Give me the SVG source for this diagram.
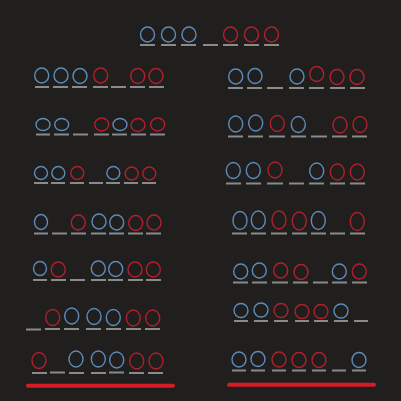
<svg xmlns="http://www.w3.org/2000/svg" width="401" height="401" viewBox="0 0 401 401">
<style>
.b{fill:none;stroke:#5b8cbc;stroke-width:1.4}
.r{fill:none;stroke:#b31f2b;stroke-width:1.4}
.s{stroke:#8a8a8a;stroke-width:2}
.bar{stroke:#d41b26;stroke-width:4;stroke-linecap:round}
</style>
<rect width="401" height="401" fill="#211f1e"/>
<g id="start">
<ellipse class="b" cx="147.5" cy="34.5" rx="7" ry="7.5"/><ellipse class="b" cx="168.5" cy="34.5" rx="7" ry="7.5"/><ellipse class="b" cx="189" cy="34.5" rx="7" ry="7.5"/>
<ellipse class="r" cx="230.5" cy="34.5" rx="7" ry="7.5"/><ellipse class="r" cx="251.5" cy="34.5" rx="7" ry="7.5"/><ellipse class="r" cx="271.5" cy="34.5" rx="7" ry="7.5"/>
<path class="s" d="M140 45h15M161 45h15M181 45h15M203 45h15M223 45h15M244 45h15M264 45h15"/>
</g>
<g id="L1">
<ellipse class="b" cx="41.7" cy="75.5" rx="7" ry="7.5"/><ellipse class="b" cx="61" cy="75.5" rx="7" ry="7.5"/><ellipse class="b" cx="80" cy="76" rx="7" ry="7.5"/>
<ellipse class="r" cx="100.7" cy="75.5" rx="7" ry="7.5"/><ellipse class="r" cx="137.7" cy="76" rx="7" ry="7.5"/><ellipse class="r" cx="156" cy="76" rx="7" ry="7.5"/>
<path class="s" d="M35 87h14M53 87h15M72 87h15M93 87h15M111 87h15M130 87h15M149 87h15"/>
</g>
<g id="R1">
<ellipse class="b" cx="235.7" cy="76.5" rx="7" ry="7.5"/><ellipse class="b" cx="255" cy="76" rx="7" ry="7.5"/><ellipse class="b" cx="297" cy="76.5" rx="7" ry="7.5"/>
<ellipse class="r" cx="316.7" cy="74" rx="7" ry="7.5"/><ellipse class="r" cx="337" cy="77" rx="7" ry="7.5"/><ellipse class="r" cx="357" cy="77" rx="7" ry="7.5"/>
<path class="s" d="M228 88h15M247 88h15M267 88h16M289 88h15M309 88h15M330 88h15M350 88h15"/>
</g>
<g id="L2">
<ellipse class="b" cx="43" cy="124.5" rx="7" ry="6"/><ellipse class="b" cx="61.7" cy="124.5" rx="7" ry="6"/>
<ellipse class="r" cx="101.7" cy="124.5" rx="7" ry="6.5"/><ellipse class="b" cx="120" cy="124.5" rx="7" ry="6"/><ellipse class="r" cx="138" cy="125" rx="7" ry="6.5"/><ellipse class="r" cx="157.7" cy="124.5" rx="7" ry="6.5"/>
<path class="s" d="M36 134.5h14M54 134.5h15M73 134.5h15M94 134.5h15M112 134.5h15M131 134.5h15M150 134.5h15"/>
</g>
<g id="R2">
<ellipse class="b" cx="235.7" cy="124" rx="7" ry="8"/><ellipse class="b" cx="255.7" cy="123" rx="7" ry="8"/><ellipse class="r" cx="277.3" cy="123.5" rx="7" ry="8"/>
<ellipse class="b" cx="298.3" cy="124.5" rx="7" ry="8"/><ellipse class="r" cx="340" cy="125" rx="7" ry="8"/><ellipse class="r" cx="360" cy="124.5" rx="7" ry="8"/>
<path class="s" d="M228 136.5h15M248 136.5h15M269 136.5h16M291 136.5h15M311 136.5h16M332 136.5h15M352 136.5h15"/>
</g>
<g id="L3">
<ellipse class="b" cx="41" cy="173" rx="6.5" ry="6.5"/><ellipse class="b" cx="58.3" cy="173" rx="6.5" ry="6.5"/><ellipse class="r" cx="77.3" cy="173" rx="6.5" ry="6.5"/>
<ellipse class="b" cx="113.3" cy="173" rx="6.5" ry="6.5"/><ellipse class="r" cx="131.7" cy="173.5" rx="6.5" ry="6.5"/><ellipse class="r" cx="149.3" cy="173.5" rx="6.5" ry="6.5"/>
<path class="s" d="M34 183h14M51 183h14M70 183h14M89 183h14M106 183h14M124 183h14M142 183h14"/>
</g>
<g id="R3">
<ellipse class="b" cx="233.3" cy="170.5" rx="7" ry="8"/><ellipse class="b" cx="253.3" cy="170.5" rx="7" ry="8"/><ellipse class="r" cx="275" cy="170" rx="7" ry="8"/>
<ellipse class="b" cx="316.7" cy="171" rx="7" ry="8"/><ellipse class="r" cx="337.3" cy="172" rx="7" ry="8"/><ellipse class="r" cx="357.3" cy="172" rx="7" ry="8"/>
<path class="s" d="M226 183.5h15M246 183.5h15M267 183.5h16M289 183.5h15M309 183.5h15M330 183.5h15M350 183.5h15"/>
</g>
<g id="L4">
<ellipse class="b" cx="41" cy="222" rx="6.5" ry="7.5"/><ellipse class="r" cx="78.3" cy="222.5" rx="7" ry="7.5"/>
<ellipse class="b" cx="99" cy="221.5" rx="7" ry="7.5"/><ellipse class="b" cx="116.7" cy="222.5" rx="7" ry="7.5"/><ellipse class="r" cx="135.7" cy="223" rx="7" ry="7.5"/><ellipse class="r" cx="154" cy="222.5" rx="7" ry="7.5"/>
<path class="s" d="M34 233.5h14M52 233.5h15M71 233.5h15M91 233.5h15M109 233.5h15M128 233.5h15M146 233.5h15"/>
</g>
<g id="R4">
<ellipse class="b" cx="240" cy="220.5" rx="7" ry="9"/><ellipse class="b" cx="258.3" cy="220" rx="7" ry="9"/><ellipse class="r" cx="279" cy="220" rx="7" ry="9"/>
<ellipse class="r" cx="299.3" cy="221" rx="7" ry="9"/><ellipse class="b" cx="318.3" cy="220.5" rx="7" ry="9"/><ellipse class="r" cx="357.3" cy="221.5" rx="7" ry="9"/>
<path class="s" d="M232 233.5h15M251 233.5h15M271 233.5h16M292 233.5h15M311 233.5h15M330 233.5h15M350 233.5h15"/>
</g>
<g id="L5">
<ellipse class="b" cx="40" cy="268.5" rx="6.5" ry="7"/><ellipse class="r" cx="58.3" cy="269.5" rx="7" ry="7.5"/>
<ellipse class="b" cx="98.3" cy="268.5" rx="7" ry="7.5"/><ellipse class="b" cx="115.7" cy="269" rx="7" ry="7.5"/><ellipse class="r" cx="135" cy="269.5" rx="7" ry="7.5"/><ellipse class="r" cx="153.3" cy="269.5" rx="7" ry="7.5"/>
<path class="s" d="M33 280h14M51 280h15M70 280h15M91 280h15M108 280h15M128 280h15M146 280h15"/>
</g>
<g id="R5">
<ellipse class="b" cx="240.7" cy="271.5" rx="7" ry="7.5"/><ellipse class="b" cx="259.3" cy="270.5" rx="7" ry="7.5"/><ellipse class="r" cx="280.7" cy="270.5" rx="7" ry="7.5"/>
<ellipse class="r" cx="301" cy="272" rx="7" ry="7.5"/><ellipse class="b" cx="339.3" cy="271.5" rx="7" ry="7.5"/><ellipse class="r" cx="359.3" cy="271.5" rx="7" ry="7.5"/>
<path class="s" d="M233 282.5h15M252 282.5h15M272 282.5h16M293 282.5h15M313 282.5h15M332 282.5h15M352 282.5h15"/>
</g>
<g id="L6">
<ellipse class="r" cx="52.7" cy="317.5" rx="7" ry="8"/><ellipse class="b" cx="71.7" cy="316" rx="7" ry="8"/><ellipse class="b" cx="94" cy="316.5" rx="7" ry="8"/>
<ellipse class="b" cx="113.3" cy="317.5" rx="7" ry="8"/><ellipse class="r" cx="133.3" cy="318" rx="7" ry="8"/><ellipse class="r" cx="152.7" cy="318" rx="7" ry="8"/>
<path class="s" d="M26 329.5h15M45 329h15M64 329h15M86 329h15M106 329h15M126 329h15M145 329h15"/>
</g>
<g id="R6">
<ellipse class="b" cx="241" cy="310.5" rx="7" ry="7"/><ellipse class="b" cx="261" cy="310" rx="7" ry="7"/><ellipse class="r" cx="281" cy="310.5" rx="7" ry="7"/>
<ellipse class="r" cx="302" cy="311.5" rx="7" ry="7"/><ellipse class="r" cx="321" cy="311.5" rx="7" ry="7"/><ellipse class="b" cx="341" cy="311" rx="7" ry="7"/>
<path class="s" d="M234 321h14M254 321h14M274 321h14M295 321h14M314 321h14M334 321h14M354 321h14"/>
</g>
<g id="L7">
<ellipse class="r" cx="39" cy="360.5" rx="7" ry="8"/><ellipse class="b" cx="76" cy="359" rx="7" ry="8"/><ellipse class="b" cx="98.3" cy="359" rx="7" ry="8"/>
<ellipse class="b" cx="116.7" cy="360" rx="7" ry="8"/><ellipse class="r" cx="136.7" cy="361" rx="7" ry="8"/><ellipse class="r" cx="156" cy="361" rx="7" ry="8"/>
<path class="s" d="M32 373h15M50 372.5h15M69 373h15M91 373h15M109 372.5h15M129 373h15M148 373h15"/>
</g>
<g id="R7">
<ellipse class="b" cx="239" cy="359.5" rx="7" ry="7.5"/><ellipse class="b" cx="258" cy="359" rx="7" ry="7.5"/><ellipse class="r" cx="279" cy="359.5" rx="7" ry="7.5"/>
<ellipse class="r" cx="299" cy="360" rx="7" ry="7.5"/><ellipse class="r" cx="319" cy="360" rx="7" ry="7.5"/><ellipse class="b" cx="359" cy="360" rx="7" ry="7.5"/>
<path class="s" d="M232 370.5h14M251 370.5h14M272 370.5h14M292 370.5h14M312 370.5h14M332 370.5h14M352 370.5h14"/>
</g>
<g id="bars">
<path class="bar" d="M28 385.7H173M229 384.7H374"/>
</g>
</svg>
